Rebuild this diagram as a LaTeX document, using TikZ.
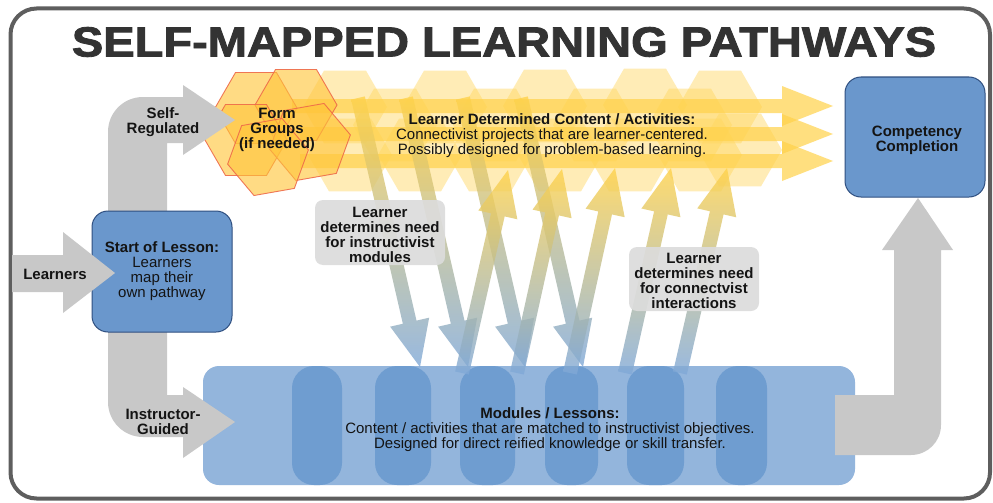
\documentclass[tikz,border=0pt]{standalone}
\usepackage{fontspec}
\setmainfont{Liberation Sans}
\newfontfamily\titlefont{Liberation Sans}[BoldFeatures={FakeBold=2}]
\usetikzlibrary{calc}
\definecolor{framec}{HTML}{5E5E5E}
\definecolor{grayarr}{HTML}{C8C8C8}
\definecolor{calloutc}{HTML}{DCDCDC}
\definecolor{boxblue}{HTML}{6A97CC}
\definecolor{boxedge}{HTML}{2F4F80}
\definecolor{modblue}{HTML}{93B5DC}
\definecolor{colblue}{HTML}{6F9DD0}
\definecolor{ylw}{HTML}{FFD24A}
\definecolor{hexy}{HTML}{FFD75E}
\definecolor{grpfill}{HTML}{FFC53A}
\definecolor{grpedge}{HTML}{EE6A4A}
\definecolor{arrblue}{HTML}{7FA8D8}
\definecolor{titlec}{HTML}{333333}
% fat arrow: style, start, end, shaft half width, head half width, head length
\newcommand{\fatarr}[6]{%
  \coordinate (fab) at ($(#3)!#6pt!(#2)$);
  \path[#1] ($(#2)!#4pt!90:(#3)$) -- ($(fab)!#4pt!-90:(#2)$) -- ($(fab)!#5pt!-90:(#2)$) -- (#3)
    -- ($(fab)!#5pt!90:(#2)$) -- ($(fab)!#4pt!90:(#2)$) -- ($(#2)!#4pt!-90:(#3)$) -- cycle;}
% hexagon: style, x, y, radius, rotation
\newcommand{\hexa}[5]{\path[#1] (#2,#3) ++(#5:#4pt) -- ++(#5+120:#4pt) -- ++(#5+180:#4pt)
  -- ++(#5+240:#4pt) -- ++(#5+300:#4pt) -- ++(#5:#4pt) -- cycle;}
\begin{document}
\begin{tikzpicture}[x=1pt,y=-1pt,
  lbl/.style={font=\fontsize{15}{15}\selectfont\bfseries, align=center, text=black!92, inner sep=0pt},
  txt/.style={font=\fontsize{15}{15}\selectfont, align=center, text=black!92, inner sep=0pt},
  bluebox/.style={draw=boxedge, line width=1pt, fill=boxblue, rounded corners=16pt},
  calloutbox/.style={fill=calloutc, rounded corners=8pt, align=center, inner sep=0pt,
    font=\fontsize{15}{15}\selectfont\bfseries, text=black!92, fill opacity=0.92, text opacity=1},
  modcol/.style={fill=colblue, rounded corners=22pt, minimum height=119pt, inner sep=0pt},
  hexband/.style={fill=hexy, fill opacity=0.45},
  grphex/.style={fill=grpfill, fill opacity=0.62, draw=grpedge, draw opacity=0.9, line width=0.9pt},
  harrow/.style={fill=ylw, fill opacity=0.7},
  diagarrow/.style={top color=ylw, bottom color=arrblue, fill opacity=0.8},
  grayshape/.style={fill=grayarr}
]
\useasboundingbox (0,0) rectangle (993,503);
% frame
\draw[framec, line width=4pt, rounded corners=26pt, fill=white] (10.5,8.5) rectangle (990,498.5);
% title
\node[font=\fontsize{42}{42}\titlefont\bfseries, text=titlec, inner sep=0pt] (title) at (504,42)
  {\scalebox{1.12}[1]{SELF-MAPPED LEARNING PATHWAYS}};

% yellow hexagon band
\foreach \hx/\hy in {345/107, 445/107, 545/106, 645/105, 720/107,
                     395/125, 495/125, 595/125, 690/125,
                     350/155, 420/155, 490/155, 560/155, 630/155, 700/155, 740/150}
  {\hexa{hexband}{\hx}{\hy}{42}{0}}

% horizontal yellow arrows
\coordinate (h1s) at (292,106); \coordinate (h1e) at (833,106);
\coordinate (h2s) at (300,134); \coordinate (h2e) at (833,134);
\coordinate (h3s) at (300,161); \coordinate (h3e) at (833,161);
\fatarr{harrow}{h1s}{h1e}{7}{20}{51}
\fatarr{harrow}{h2s}{h2e}{7}{20}{51}
\fatarr{harrow}{h3s}{h3e}{7}{20}{51}

% form groups hexagons
\hexa{grphex}{256}{108}{41}{0}
\hexa{grphex}{296}{105}{41}{0}
\hexa{grphex}{246}{140}{41}{0}
\hexa{grphex}{310}{142}{41}{10}
\hexa{grphex}{268}{157}{41}{10}

% modules box and columns
\node[fill=modblue, rounded corners=16pt, minimum width=652pt, minimum height=119pt, inner sep=0pt] (mod) at (529,425.5) {};
\node[modcol, minimum width=50pt] (col1) at (317,425.5) {};
\node[modcol, minimum width=56pt] (col2) at (403,425.5) {};
\node[modcol, minimum width=55pt] (col3) at (487.5,425.5) {};
\node[modcol, minimum width=53pt] (col4) at (571.5,425.5) {};
\node[modcol, minimum width=57pt] (col5) at (655.5,425.5) {};
\node[modcol, minimum width=51pt] (col6) at (741.5,425.5) {};

% gray pathway arrows
\path[grayshape] (183,97) -- (143,97) .. controls (123.7,97) and (108,112.3) .. (108,132)
  -- (108,402) .. controls (108,421.3) and (123.7,437) .. (143,437) -- (183,437) -- (183,458)
  -- (235,422) -- (183,387) -- (183,395) -- (167,395) -- (167,143) -- (183,143) -- (183,155)
  -- (235,120) -- (183,85) -- cycle;
\path[grayshape] (835,395) -- (894,395) -- (894,250) -- (882,250) -- (918,198) -- (953,250)
  -- (941,250) -- (941,425) .. controls (941,441.6) and (927.6,455) .. (911,455) -- (835,455) -- cycle;

% diagonal arrows (down: to modules, up: to connectivist band)
\coordinate (d1s) at (358,98);  \coordinate (d1e) at (420,367);
\coordinate (d2s) at (406,98);  \coordinate (d2e) at (468,367);
\coordinate (d3s) at (463,98);  \coordinate (d3e) at (525,367);
\coordinate (d4s) at (521,98);  \coordinate (d4e) at (583,367);
\coordinate (u1s) at (462,373); \coordinate (u1e) at (508,170);
\coordinate (u2s) at (517,373); \coordinate (u2e) at (562,169);
\coordinate (u3s) at (570,373); \coordinate (u3e) at (615,168);
\coordinate (u4s) at (625,373); \coordinate (u4e) at (671,168);
\coordinate (u5s) at (680,373); \coordinate (u5e) at (727,168);
\foreach \a in {d1,d2,d3,d4,u1,u2,u3,u4,u5}
  {\fatarr{diagarrow}{\a s}{\a e}{7}{20}{46}}

% start box and learners arrow
\node[bluebox, minimum width=140pt, minimum height=121pt] (start) at (162,271.5) {};
\node[txt] (startt) at (162,271.5) {{\bfseries Start of Lesson:}\\Learners\\map their\\own pathway};
\path[grayshape] (12,255) -- (63,255) -- (63,232) -- (115,273) -- (63,313) -- (63,292) -- (12,292) -- cycle;
\node[lbl] (learners) at (55,274) {Learners};

% competency box
\node[bluebox, minimum width=140pt, minimum height=120pt] (comp) at (915,137) {};
\node[lbl] (compt) at (917,140) {Competency\\Completion};

% labels on gray arrows
\node[lbl] (selfreg) at (163,122) {Self-\\Regulated};
\node[lbl] (instr) at (163,422) {Instructor-\\Guided};

% form groups text
\node[lbl] (groups) at (277,130) {Form\\Groups\\(if needed)};

% connectivist band text
\node[txt] (ldc) at (552,136) {{\bfseries Learner Determined Content / Activities:}\\
  Connectivist projects that are learner-centered.\\Possibly designed for problem-based learning.};

% callouts
\node[calloutbox, minimum width=130pt, minimum height=65pt] (call1) at (380,232.5) {};
\node[lbl] (call1t) at (380,234.5) {Learner\\determines need\\for instructivist\\modules};
\node[calloutbox, minimum width=130pt, minimum height=64pt] (call2) at (694,279) {};
\node[lbl] (call2t) at (694,281) {Learner\\determines need\\for connectvist\\interactions};

% modules text
\node[txt] (modt) at (550,430) {{\bfseries Modules / Lessons:}\\
  Content / activities that are matched to instructivist objectives.\\
  Designed for direct reified knowledge or skill transfer.};
\end{tikzpicture}
\end{document}
